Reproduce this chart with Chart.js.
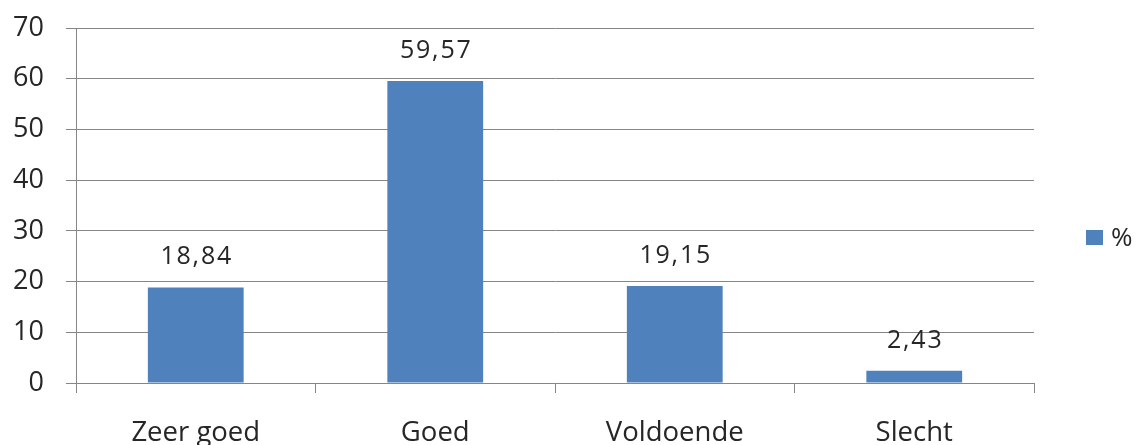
<!DOCTYPE html>
<html>
<head>
<meta charset="utf-8">
<script src="https://cdn.jsdelivr.net/npm/chart.js@4/dist/chart.umd.min.js"></script>
<style>
  html, body { margin: 0; padding: 0; background: #fff; }
  #wrap { width: 1138px; height: 445px; }
</style>
</head>
<body>
<div id="wrap"><canvas id="chart"></canvas></div>
<script>
var categories = ["Zeer goed", "Goed", "Voldoende", "Slecht"];
var percentages = [18.84, 59.57, 19.15, 2.43];
var seriesName = "%";
var yTicks = [0, 10, 20, 30, 40, 50, 60, 70];

var barColor = '#4F81BD';
var gridColor = '#868686';
var textColor = '#262626';
var fontFamily = '"Open Sans", "DejaVu Sans", sans-serif';

function fmt(v) {
	return v.toFixed(2).replace('.', ',');
}

// value labels above the bars
var valueLabels = {
	id: 'valueLabels',
	afterDatasetsDraw: function(chart) {
		var ctx = chart.ctx;
		var meta = chart.getDatasetMeta(0);
		ctx.save();
		ctx.font = '25px ' + fontFamily;
		ctx.letterSpacing = '1.8px';
		ctx.fillStyle = textColor;
		ctx.textAlign = 'center';
		ctx.textBaseline = 'alphabetic';
		meta.data.forEach(function(bar, i) {
			ctx.fillText(fmt(chart.data.datasets[0].data[i]), bar.x + 1, bar.y - 23);
		});
		ctx.restore();
	}
};

// simple legend on the right
var sideLegend = {
	id: 'sideLegend',
	afterDraw: function(chart) {
		var ctx = chart.ctx;
		var ds = chart.data.datasets[0];
		ctx.save();
		ctx.fillStyle = ds.backgroundColor;
		ctx.fillRect(1086, 230, 17, 15);
		ctx.font = '26px ' + fontFamily;
		ctx.fillStyle = textColor;
		ctx.textAlign = 'left';
		ctx.textBaseline = 'alphabetic';
		ctx.fillText(ds.label, 1111, 246);
		ctx.restore();
	}
};

var ctx = document.getElementById('chart').getContext('2d');
var myChart = new Chart(ctx, {
	type: 'bar',
	data: {
		labels: categories,
		datasets: [{
			label: seriesName,
			data: percentages,
			backgroundColor: barColor,
			borderWidth: 0,
			barPercentage: 0.4,
			categoryPercentage: 1.0
		}]
	},
	options: {
		responsive: true,
		maintainAspectRatio: false,
		animation: false,
		layout: {
			padding: { left: 0, right: 104, top: 28, bottom: 0 }
		},
		plugins: {
			legend: { display: false },
			tooltip: { enabled: false }
		},
		scales: {
			x: {
				grid: {
					offset: true,
					drawOnChartArea: false,
					drawTicks: true,
					tickLength: 10,
					color: gridColor
				},
				border: { color: gridColor, width: 1 },
				ticks: {
					color: textColor,
					padding: 24,
					maxRotation: 0,
					font: { family: fontFamily, size: 27.5 }
				},
				afterFit: function(s) {
					s.height = 62;
					s.paddingLeft = 0;
					s.paddingRight = 0;
				}
			},
			y: {
				min: 0,
				max: 70,
				afterBuildTicks: function(s) {
					s.ticks = yTicks.map(function(v) { return { value: v }; });
				},
				grid: {
					color: gridColor,
					tickLength: 10
				},
				border: { color: gridColor, width: 1 },
				ticks: {
					color: textColor,
					padding: 22,
					font: { family: fontFamily, size: 27 }
				},
				afterFit: function(s) {
					s.width = 76;
					s.paddingTop = 0;
					s.paddingBottom = 0;
				}
			}
		}
	},
	plugins: [valueLabels, sideLegend]
});
</script>
</body>
</html>
